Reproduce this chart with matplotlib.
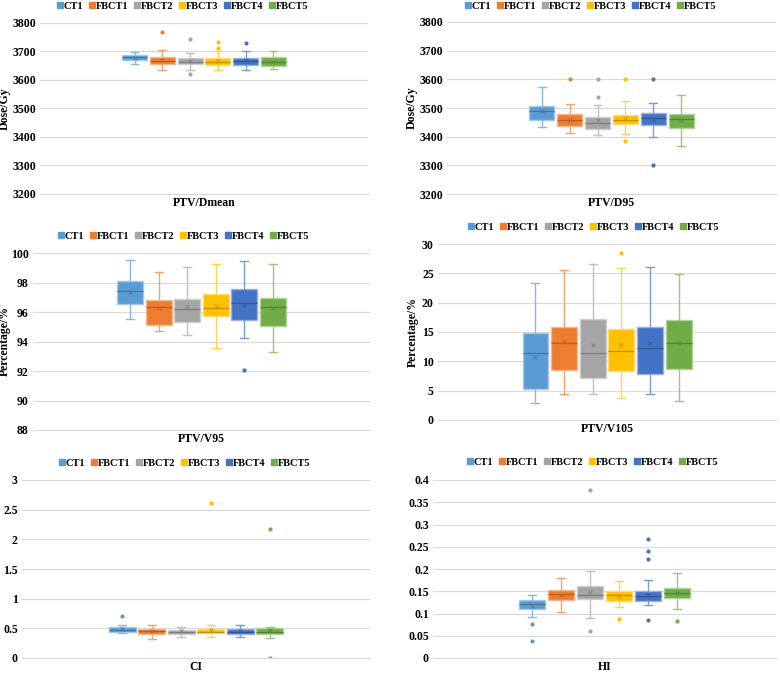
import matplotlib as mpl
mpl.use("Agg")
import matplotlib.pyplot as plt
import numpy as np
from matplotlib.lines import Line2D
from matplotlib.colors import to_rgb
from matplotlib.ticker import FuncFormatter

plt.rcParams["font.family"] = ["Liberation Serif", "DejaVu Serif"]
plt.rcParams["font.weight"] = "bold"

series = ["CT1", "FBCT1", "FBCT2", "FBCT3", "FBCT4", "FBCT5"]
colors = ["#5B9BD5", "#ED7D31", "#A5A5A5", "#FFC000", "#4472C4", "#70AD47"]

# PTV/Dmean
dmean_low = [3654, 3633, 3633, 3633, 3633, 3637]
dmean_q1 = [3669, 3654, 3657, 3652, 3653, 3650]
dmean_med = [3679, 3666, 3664, 3664, 3666, 3662]
dmean_q3 = [3687, 3679, 3676, 3675, 3678, 3679]
dmean_high = [3696, 3703, 3693, 3701, 3700, 3700]
dmean_mean = [3678, 3669, 3666, 3666, 3668, 3664]
dmean_out = [[], [3766], [3742, 3620], [3732, 3713], [3730], []]

# PTV/D95
d95_low = [3434, 3413, 3406, 3409, 3398, 3369]
d95_q1 = [3459, 3436, 3427, 3443, 3440, 3430]
d95_med = [3490, 3457, 3448, 3457, 3466, 3463]
d95_q3 = [3508, 3480, 3469, 3476, 3481, 3478]
d95_high = [3573, 3514, 3510, 3524, 3516, 3547]
d95_mean = [3490, 3459, 3459, 3464, 3462, 3459]
d95_out = [[], [3601], [3601, 3537], [3601, 3385], [3601, 3301], []]

# PTV/V95
v95_low = [95.52, 94.70, 94.41, 93.57, 94.23, 93.28]
v95_q1 = [96.56, 95.13, 95.31, 95.72, 95.43, 95.06]
v95_med = [97.44, 96.31, 96.22, 96.26, 96.63, 96.31]
v95_q3 = [98.12, 96.81, 96.85, 97.24, 97.58, 96.92]
v95_high = [99.55, 98.71, 99.03, 99.25, 99.43, 99.25]
v95_mean = [97.37, 96.24, 96.31, 96.42, 96.47, 96.24]
v95_out = [[], [], [], [], [92.08], []]

# PTV/V105
v105_low = [2.95, 4.43, 4.43, 3.75, 4.43, 3.24]
v105_q1 = [5.28, 8.52, 7.22, 8.30, 7.90, 8.64]
v105_med = [11.42, 13.13, 11.42, 11.82, 12.33, 13.13]
v105_q3 = [14.77, 15.80, 17.27, 15.51, 15.80, 17.10]
v105_high = [23.35, 25.51, 26.59, 25.85, 26.08, 24.89]
v105_mean = [10.8, 13.24, 12.84, 12.73, 13.13, 13.13]
v105_out = [[], [], [], [28.47], [], []]

# CI
ci_low = [0.425, 0.32, 0.36, 0.36, 0.36, 0.34]
ci_q1 = [0.44, 0.404, 0.404, 0.414, 0.404, 0.40]
ci_med = [0.48, 0.45, 0.44, 0.44, 0.44, 0.43]
ci_q3 = [0.53, 0.488, 0.476, 0.493, 0.488, 0.50]
ci_high = [0.556, 0.556, 0.52, 0.556, 0.556, 0.53]
ci_mean = [0.49, 0.45, 0.45, 0.47, 0.45, 0.47]
ci_out = [[0.70], [], [], [2.62], [], [2.18, 0.0]]

# HI
hi_low = [0.093, 0.104, 0.090, 0.115, 0.118, 0.111]
hi_q1 = [0.109, 0.131, 0.133, 0.128, 0.127, 0.135]
hi_med = [0.121, 0.143, 0.142, 0.142, 0.139, 0.147]
hi_q3 = [0.130, 0.153, 0.161, 0.150, 0.150, 0.158]
hi_high = [0.142, 0.180, 0.196, 0.174, 0.176, 0.190]
hi_mean = [0.117, 0.142, 0.148, 0.140, 0.142, 0.145]
hi_out = [[0.0775, 0.038], [], [0.377, 0.061], [0.088], [0.267, 0.240, 0.223, 0.085], [0.083]]


def lighten(c, f):
    r, g, b = to_rgb(c)
    return (r + (1 - r) * f, g + (1 - g) * f, b + (1 - b) * f)


def darken(c, f):
    r, g, b = to_rgb(c)
    return (r * (1 - f), g * (1 - f), b * (1 - f))


def make_stats(low, q1, med, q3, high, mean, out):
    stats = []
    for i in range(len(series)):
        stats.append({"whislo": low[i], "q1": q1[i], "med": med[i], "q3": q3[i],
                      "whishi": high[i], "mean": mean[i], "fliers": out[i]})
    return stats


W, H = 780, 673
fig = plt.figure(figsize=(W / 100, H / 100), dpi=100)

# pixel box (left, right, top, bottom), stats, category, ylim, step, ylabel,
# right edge of y label, legend centre
panels = [
    ((40, 368, 22.7, 194), make_stats(dmean_low, dmean_q1, dmean_med, dmean_q3, dmean_high, dmean_mean, dmean_out),
     "PTV/Dmean", (3200, 3800), 100, "Dose/Gy", 11, (183, 6)),
    ((447, 776, 22, 194), make_stats(d95_low, d95_q1, d95_med, d95_q3, d95_high, d95_mean, d95_out),
     "PTV/D95", (3200, 3800), 100, "Dose/Gy", 418, (591, 6)),
    ((33, 370, 253, 430), make_stats(v95_low, v95_q1, v95_med, v95_q3, v95_high, v95_mean, v95_out),
     "PTV/V95", (88, 100), 2, "Percentage/%", 11, (184, 236)),
    ((438, 776, 244, 420), make_stats(v105_low, v105_q1, v105_med, v105_q3, v105_high, v105_mean, v105_out),
     "PTV/V105", (0, 30), 5, "Percentage/%", 419, (594, 227)),
    ((22, 370, 480, 658), make_stats(ci_low, ci_q1, ci_med, ci_q3, ci_high, ci_mean, ci_out),
     "CI", (0, 3), 0.5, None, None, (185, 463)),
    ((433, 776, 480, 658), make_stats(hi_low, hi_q1, hi_med, hi_q3, hi_high, hi_mean, hi_out),
     "HI", (0, 0.4), 0.05, None, None, (593, 462)),
]

positions = np.arange(1, len(series) + 1)

for (l, r, t, b), stats, cat, ylim, step, ylabel, lab_x, leg_c in panels:
    ax = fig.add_axes([l / W, 1 - b / H, (r - l) / W, (b - t) / H])
    art = ax.bxp(stats, positions=positions, widths=0.9, patch_artist=True,
                 showmeans=True, capwidths=0.28)
    for i, c in enumerate(colors):
        box = art["boxes"][i]
        box.set_facecolor(c)
        box.set_edgecolor(lighten(c, 0.45))
        box.set_linewidth(1.0)
        art["medians"][i].set_color(darken(c, 0.25))
        art["medians"][i].set_linewidth(0.9)
        for ln in art["whiskers"][2 * i:2 * i + 2] + art["caps"][2 * i:2 * i + 2]:
            ln.set_color(lighten(c, 0.3))
            ln.set_linewidth(1.0)
        m = art["means"][i]
        m.set_marker("x")
        m.set_markersize(3.5)
        m.set_markeredgecolor(darken(c, 0.2))
        m.set_markerfacecolor("none")
        m.set_markeredgewidth(0.7)
        f = art["fliers"][i]
        f.set_marker("o")
        f.set_markersize(2.0)
        f.set_markerfacecolor(c)
        f.set_markeredgecolor(c)

    ax.set_xlim(-2.4, 9.4)
    ax.set_ylim(*ylim)
    ax.set_yticks(np.arange(ylim[0], ylim[1] + step / 2, step))
    ax.yaxis.set_major_formatter(FuncFormatter(lambda v, p: "{:g}".format(round(v, 4))))
    ax.set_xticks([3.5])
    ax.set_xticklabels([cat], fontsize=8.5, fontweight="bold")
    ax.tick_params(axis="both", length=0, labelsize=8.5)
    ax.tick_params(axis="x", pad=2.5)
    ax.tick_params(axis="y", pad=3)
    for lbl in ax.get_yticklabels():
        lbl.set_fontweight("bold")
    ax.grid(axis="y", color="#D9D9D9", linewidth=0.8)
    ax.set_axisbelow(True)
    for s in ["top", "right", "left"]:
        ax.spines[s].set_visible(False)
    ax.spines["bottom"].set_color("#D9D9D9")
    ax.spines["bottom"].set_linewidth(0.8)
    if ylabel:
        ax.set_ylabel(ylabel, fontsize=8.5, fontweight="bold")
        ax.yaxis.set_label_coords((lab_x - l) / (r - l), 0.5)

    handles = [Line2D([], [], marker="s", linestyle="none", markersize=4,
                      markerfacecolor=c, markeredgecolor=c) for c in colors]
    fig.legend(handles, series, loc="center", ncol=6,
               bbox_to_anchor=(leg_c[0] / W, 1 - leg_c[1] / H),
               frameon=False, handlelength=0.4, handletextpad=0.2,
               columnspacing=0.6, borderpad=0.1,
               prop={"weight": "bold", "size": 7.5})

fig.savefig("out.png", dpi=100)
plt.close(fig)
